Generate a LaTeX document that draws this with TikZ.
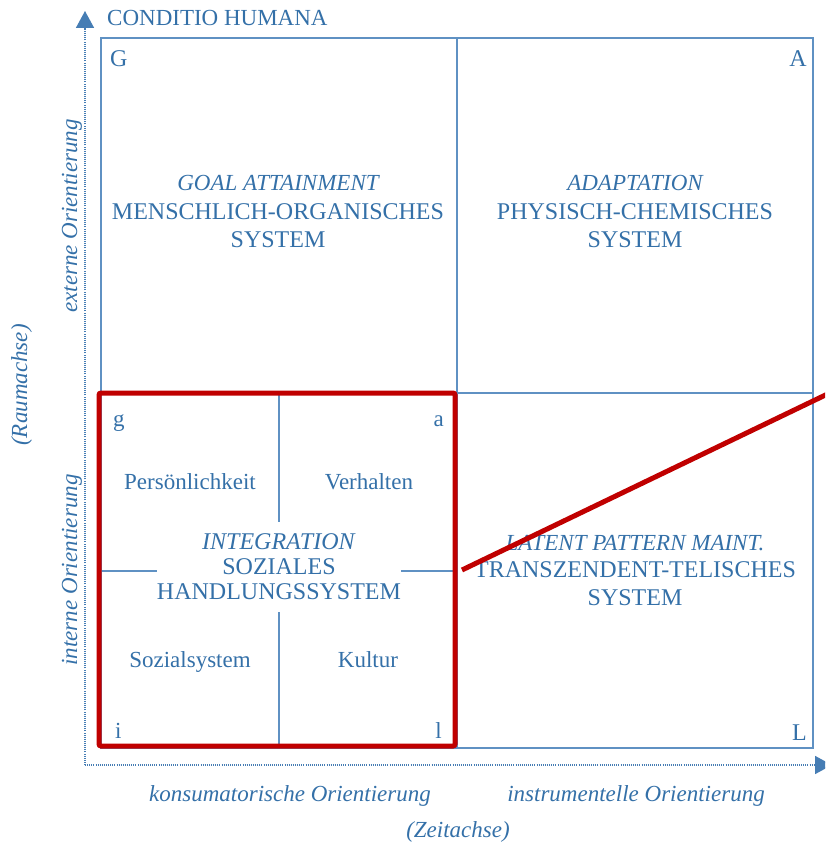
\documentclass[tikz,border=0pt]{standalone}
\usepackage{fontspec}
\setmainfont{Liberation Serif}
\usetikzlibrary{arrows.meta}
\definecolor{txtblue}{RGB}{52,112,168}
\definecolor{lineblue}{RGB}{95,145,195}
\definecolor{axisblue}{RGB}{70,125,180}
\definecolor{darkred}{RGB}{192,0,0}
\tikzset{
  lbl/.style={text=txtblue, inner sep=0pt, anchor=base, font=\fontsize{24}{28}\selectfont},
  slbl/.style={lbl, font=\fontsize{23}{28}\selectfont},
  ilbl/.style={lbl, font=\fontsize{23}{28}\selectfont\itshape},
  gridline/.style={draw=lineblue, line width=1.5pt},
  axisline/.style={draw=axisblue, line width=1.6pt, dash pattern=on 1pt off 1.1pt, -{Triangle[width=18pt,length=17pt]}},
  redline/.style={draw=darkred, line width=5pt}
}
\begin{document}
\begin{tikzpicture}[x=1pt,y=-1pt]
\clip (0,0) rectangle (825,842);
\useasboundingbox (0,0) rectangle (825,842);
% axes
\coordinate (origin) at (85,765);
\coordinate (ytop) at (85,11);
\coordinate (xend) at (832,765);
\draw[axisline] (origin) -- (ytop);
\draw[axisline] (origin) -- (xend);
% grid
\draw[gridline] (101,38) rectangle (813,748);
\draw[gridline] (457,38) -- (457,748);
\draw[gridline] (101,393) -- (813,393);
\draw[gridline] (279,393) -- (279,748);
\draw[gridline] (101,571) -- (457,571);
% top labels
\node[slbl, anchor=base west] (ch) at (107,26) {CONDITIO HUMANA};
\node[lbl, anchor=base west] (G) at (110,67) {G};
\node[lbl, anchor=base east] (A) at (807,67) {A};
\node[lbl, anchor=base east] (L) at (807,740) {L};
% quadrant texts
\node[ilbl] (goal) at (278,191) {GOAL ATTAINMENT};
\node[lbl] (goal2) at (278,219) {MENSCHLICH-ORGANISCHES};
\node[lbl] (goal3) at (278,247) {SYSTEM};
\node[ilbl] (adapt) at (635,191) {ADAPTATION};
\node[lbl] (adapt2) at (635,219) {PHYSISCH-CHEMISCHES};
\node[lbl] (adapt3) at (635,247) {SYSTEM};
\node[ilbl] (lat) at (635,550) {LATENT PATTERN MAINT.};
\node[lbl] (lat2) at (635,577) {TRANSZENDENT-TELISCHES};
\node[lbl] (lat3) at (635,605) {SYSTEM};
% inner small quadrant
\node[slbl, anchor=base west] (g) at (113,426) {g};
\node[slbl, anchor=base east] (a) at (444,426) {a};
\node[slbl, anchor=base west] (i) at (115,738) {i};
\node[slbl, anchor=base east] (l) at (442,738) {l};
\node[slbl] (pers) at (190,489) {Persönlichkeit};
\node[slbl] (verh) at (369,489) {Verhalten};
\node[slbl] (sozs) at (190,667) {Sozialsystem};
\node[slbl] (kult) at (368,667) {Kultur};
\node[fill=white, inner sep=0pt, minimum width=243pt, minimum height=90pt, align=center,
      text=txtblue, font=\fontsize{24}{25}\selectfont] (integ) at (279,567)
      {\textit{INTEGRATION}\\SOZIALES\\HANDLUNGSSYSTEM};
% axis labels
\node[ilbl] (kons) at (290,801) {konsumatorische Orientierung};
\node[ilbl] (instr) at (636,801) {instrumentelle Orientierung};
\node[ilbl] (zeit) at (458,837) {(Zeitachse)};
\node[ilbl, rotate=90, anchor=base] (ext) at (77,216) {externe Orientierung};
\node[ilbl, rotate=90, anchor=base] (int) at (77,570) {interne Orientierung};
\node[ilbl, rotate=90, anchor=base] (raum) at (27,385) {(Raumachse)};
% red highlight
\draw[redline, rounded corners=2pt] (99,393) rectangle (455,746);
\coordinate (rstart) at (462,570);
\coordinate (rend) at (840,388);
\draw[redline] (rstart) -- (rend);
\end{tikzpicture}
\end{document}
